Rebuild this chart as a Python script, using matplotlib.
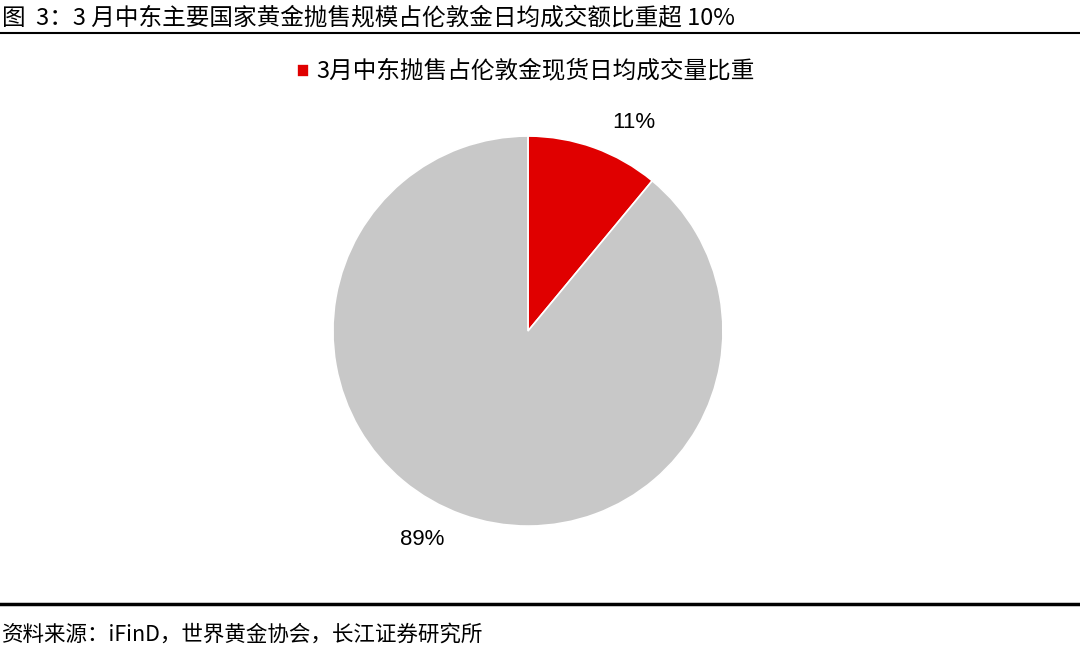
import matplotlib.pyplot as plt
import numpy as np

plt.rcParams['font.family'] = ['Noto Sans CJK SC', 'DejaVu Sans']

title = '图  3：3 月中东主要国家黄金抛售规模占伦敦金日均成交额比重超 10%'
source = '资料来源：iFinD，世界黄金协会，长江证券研究所'
series_name = '3月中东抛售占伦敦金现货日均成交量比重'
shares = [11, 89]
labels = ['11%', '89%']
colors = ['#E00000', '#C8C8C8']

fig = plt.figure(figsize=(10.8, 6.56), dpi=100)

# заголовок и линии
fig.text(0.002, 0.972, title, fontsize=17, ha='left', va='center')
fig.add_artist(plt.Line2D([0, 1], [0.949, 0.949], color='black', lw=1.5))
fig.add_artist(plt.Line2D([0, 1], [0.079, 0.079], color='black', lw=2.5))
fig.text(0.002, 0.032, source, fontsize=15.5, ha='left', va='center')

# пирог
ax = fig.add_axes([0.4889 - 0.1806, 0.4954 - 0.2973, 0.3611, 0.5945])
wedges, _ = ax.pie(shares, colors=colors, startangle=90, counterclock=False,
                   wedgeprops=dict(linewidth=1.2, edgecolor='white'))
for w, lab in zip(wedges, labels):
    mid = np.deg2rad((w.theta1 + w.theta2) / 2 - 7)
    ax.text(1.2 * np.cos(mid), 1.2 * np.sin(mid), lab, ha='center', va='center',
            fontsize=16, family=['Liberation Sans', 'DejaVu Sans'])
ax.set_xlim(-1, 1)
ax.set_ylim(-1, 1)
ax.set_aspect('equal')

leg = fig.legend([wedges[0]], [series_name], loc='center', bbox_to_anchor=(0.487, 0.890),
                 frameon=False, fontsize=17, handlelength=0.5, handleheight=0.5,
                 handletextpad=0.3)

fig.savefig('out.png', dpi=100)
